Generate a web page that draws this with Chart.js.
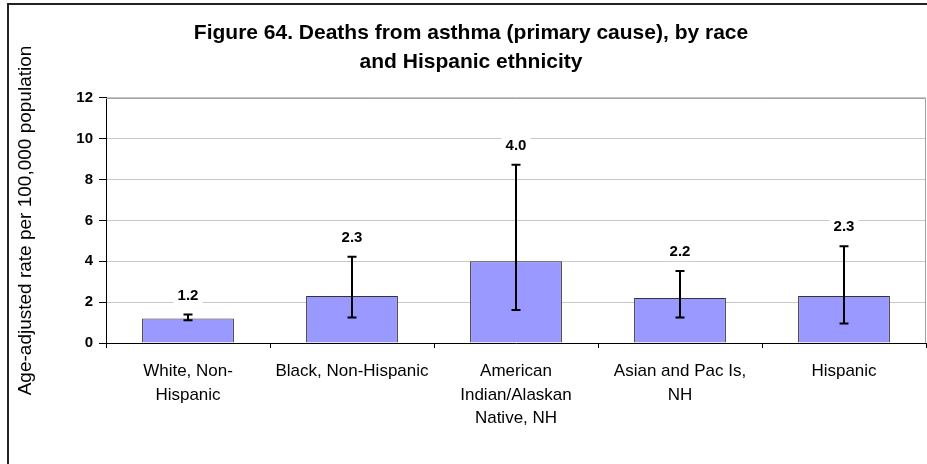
<!DOCTYPE html>
<html>
<head>
<meta charset="utf-8">
<script src="https://cdn.jsdelivr.net/npm/chart.js@4/dist/chart.umd.min.js"></script>
<style>
  html, body { margin: 0; padding: 0; background: #ffffff; }
  #wrap { width: 927px; height: 464px; position: relative; }
</style>
</head>
<body>
<div id="wrap"><canvas id="c" width="927" height="464"></canvas></div>
<script>
// Asthma death rates (age-adjusted, per 100,000) with confidence limits
const categories = [
  ["White, Non-", "Hispanic"],
  "Black, Non-Hispanic",
  ["American", "Indian/Alaskan", "Native, NH"],
  ["Asian and Pac Is,", "NH"],
  "Hispanic"
];
const rates = [1.2, 2.3, 4.0, 2.2, 2.3];
const lowerLimits = [1.12, 1.25, 1.62, 1.25, 0.95];
const upperLimits = [1.40, 4.22, 8.73, 3.52, 4.74];
const yTicks = [0, 2, 4, 6, 8, 10, 12];

const FONT = "'Liberation Sans', Arial, sans-serif";

// White page background plus the outer frame lines
const framePlugin = {
  id: 'frame',
  beforeDraw(chart) {
    const ctx = chart.ctx;
    ctx.save();
    ctx.fillStyle = '#ffffff';
    ctx.fillRect(0, 0, chart.width, chart.height);
    ctx.restore();
  },
  afterDraw(chart) {
    const ctx = chart.ctx;
    ctx.save();
    ctx.strokeStyle = '#222222';
    ctx.lineWidth = 2;
    ctx.beginPath();
    ctx.moveTo(8, chart.height);
    ctx.lineTo(8, 4);
    ctx.lineTo(chart.width, 4);
    ctx.stroke();
    ctx.restore();
  }
};

// Plot area border on the top and right sides
const plotBorderPlugin = {
  id: 'plotBorder',
  beforeDatasetsDraw(chart) {
    const {ctx, chartArea: a} = chart;
    ctx.save();
    ctx.strokeStyle = '#a0a0a0';
    ctx.lineWidth = 1;
    ctx.beginPath();
    ctx.moveTo(a.left, a.top + 0.5);
    ctx.lineTo(a.right - 0.5, a.top + 0.5);
    ctx.lineTo(a.right - 0.5, a.bottom);
    ctx.stroke();
    ctx.restore();
  }
};

// Confidence-interval whiskers and the value labels above them
const errorBarPlugin = {
  id: 'errorBars',
  afterDatasetsDraw(chart) {
    const ctx = chart.ctx;
    const meta = chart.getDatasetMeta(0);
    const y = chart.scales.y;
    ctx.save();
    ctx.strokeStyle = '#000000';
    ctx.lineWidth = 2;
    meta.data.forEach((bar, i) => {
      const x = Math.round(bar.x);
      const yHi = y.getPixelForValue(upperLimits[i]);
      const yLo = y.getPixelForValue(lowerLimits[i]);
      const cap = 4.5;
      ctx.beginPath();
      ctx.moveTo(x, yHi);
      ctx.lineTo(x, yLo);
      ctx.moveTo(x - cap, yHi);
      ctx.lineTo(x + cap, yHi);
      ctx.moveTo(x - cap, yLo);
      ctx.lineTo(x + cap, yLo);
      ctx.stroke();
    });
    ctx.font = 'bold 15px ' + FONT;
    ctx.textAlign = 'center';
    ctx.textBaseline = 'middle';
    meta.data.forEach((bar, i) => {
      const x = Math.round(bar.x);
      const yHi = y.getPixelForValue(upperLimits[i]);
      const ly = yHi - 20;
      const txt = rates[i].toFixed(1);
      const w = ctx.measureText(txt).width + 8;
      ctx.fillStyle = '#ffffff';
      ctx.fillRect(x - w / 2, ly - 10, w, 20);
      ctx.fillStyle = '#000000';
      ctx.fillText(txt, x, ly + 1);
    });
    ctx.restore();
  }
};

new Chart(document.getElementById('c'), {
  type: 'bar',
  data: {
    labels: categories,
    datasets: [{
      data: rates,
      backgroundColor: '#9999ff',
      borderColor: '#333333',
      borderWidth: 1,
      categoryPercentage: 1.0,
      barPercentage: 0.56
    }]
  },
  options: {
    responsive: false,
    animation: false,
    devicePixelRatio: 1,
    layout: { padding: { left: 16, right: 1, top: 4, bottom: 0 } },
    plugins: {
      legend: { display: false },
      tooltip: { enabled: false },
      title: {
        display: true,
        text: ['Figure 64. Deaths from asthma (primary cause), by race', 'and Hispanic ethnicity'],
        color: '#000000',
        font: { family: FONT, size: 21, weight: 'bold', lineHeight: 1.38 },
        padding: { top: 15, bottom: 21 }
      }
    },
    scales: {
      x: {
        grid: {
          offset: true,
          drawOnChartArea: false,
          drawTicks: true,
          tickLength: 5,
          color: '#000000'
        },
        border: { color: '#000000', width: 1 },
        ticks: {
          color: '#000000',
          font: { family: FONT, size: 17, lineHeight: 1.38 },
          padding: 12,
          maxRotation: 0,
          autoSkip: false
        },
        afterFit(scale) { scale.height = 121; }
      },
      y: {
        min: 0,
        max: 12,
        afterBuildTicks(scale) { scale.ticks = yTicks.map(v => ({ value: v })); },
        grid: {
          color: '#c8c8c8',
          tickColor: '#000000',
          tickLength: 7,
          drawTicks: true
        },
        border: { color: '#000000', width: 1 },
        ticks: {
          color: '#000000',
          font: { family: FONT, size: 15, weight: 'bold' },
          padding: 6
        },
        title: {
          display: true,
          text: 'Age-adjusted rate per 100,000 population',
          color: '#000000',
          font: { family: FONT, size: 19, lineHeight: 1.0 },
          padding: { top: 0, bottom: 0 }
        },
        afterFit(scale) { scale.width = 90; }
      }
    }
  },
  plugins: [framePlugin, plotBorderPlugin, errorBarPlugin]
});
</script>
</body>
</html>
